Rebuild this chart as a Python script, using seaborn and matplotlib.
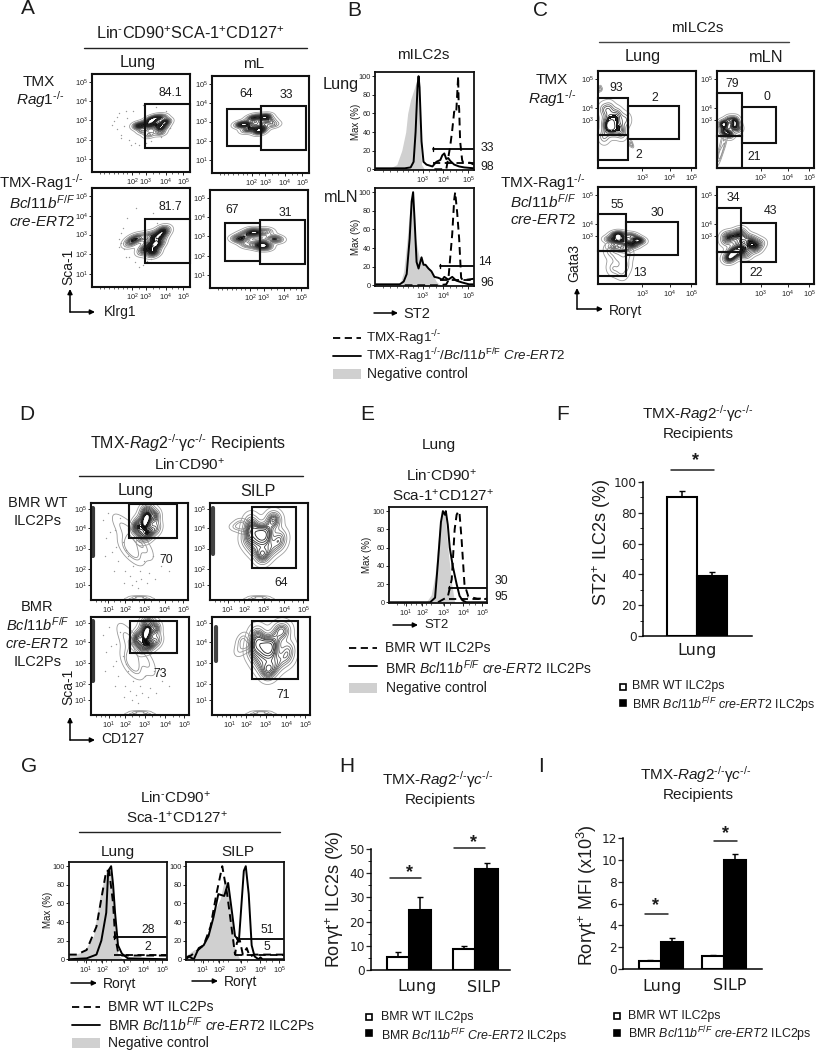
import numpy as np
import matplotlib
matplotlib.use("Agg")
import matplotlib.pyplot as plt
from matplotlib.colors import LinearSegmentedColormap
from matplotlib.patches import Rectangle
import seaborn as sns

sns.set_style("white")
plt.rcParams['font.family'] = ['Liberation Sans', 'DejaVu Sans']
plt.rcParams['mathtext.fontset'] = 'custom'
plt.rcParams['mathtext.rm'] = 'Liberation Sans'
plt.rcParams['mathtext.it'] = 'Liberation Sans:italic'
plt.rcParams['mathtext.bf'] = 'Liberation Sans:bold'

# bar values
f_groups = ['WT', 'cKO']
f_vals = [90.2, 38.7]
f_err = [3.8, 2.8]
h_sites = ['Lung', 'Lung', 'SILP', 'SILP']
h_donor = ['WT', 'cKO', 'WT', 'cKO']
h_vals = [5.5, 24.9, 8.5, 41.7]
h_err = [2.0, 5.3, 1.5, 2.4]
i_vals = [0.75, 2.45, 1.16, 10.0]
i_err = [0.1, 0.35, 0.12, 0.5]

# histograms, channel (0-100 across the plot) vs % of max
b1_neg_x = [13, 22, 27, 31, 33, 36, 40, 43, 45, 47, 50]
b1_neg_y = [0, 5, 20, 40, 60, 75, 88, 98, 60, 5, 0]
b1_sol_x = [0, 20, 30, 36, 39, 41, 43, 44, 45, 47, 49, 52, 55, 58, 62, 66, 68, 70, 72, 74, 76, 80, 85, 90, 100]
b1_sol_y = [1, 1, 1, 2, 8, 40, 90, 100, 88, 30, 8, 5, 4, 3, 8, 10, 15, 17, 11, 12, 9, 5, 3, 2, 1]
b1_das_x = [60, 72, 76, 78, 80, 82, 84, 84.5, 85, 86, 88, 89, 96, 100]
b1_das_y = [0, 0, 25, 42, 62, 60, 100, 70, 65, 30, 10, 7, 7, 5]
b2_neg_x = [25, 29, 32, 35, 38, 41, 45, 48, 52, 55, 59, 62, 66]
b2_neg_y = [0, 15, 45, 80, 97, 50, 28, 25, 20, 18, 10, 4, 0]
b2_sol_x = [0, 25, 29, 32, 35, 37, 38.5, 40, 42, 44, 47, 49, 51, 54, 57, 60, 64, 68, 70, 74, 78, 82, 88, 95, 100]
b2_sol_y = [1, 1, 4, 12, 50, 90, 100, 70, 25, 18, 30, 22, 22, 18, 15, 9, 8, 6, 9, 6, 9, 5, 3, 1, 1]
b2_das_x = [30, 65, 72, 74, 76, 78, 80, 81, 83, 85, 87, 89, 93, 100]
b2_das_y = [0, 0, 1, 5, 30, 55, 92, 100, 78, 50, 8, 5, 6, 7]
e_neg_x = [38, 43, 47, 51, 54, 57, 60, 64, 67]
e_neg_y = [0, 8, 30, 78, 95, 100, 60, 20, 0]
e_sol_x = [0, 30, 42, 47, 50, 53, 55, 57, 58, 60, 62, 65, 69, 72, 75, 79, 100]
e_sol_y = [0, 0, 0, 5, 45, 88, 100, 96, 100, 85, 60, 40, 20, 7, 2, 0, 0]
e_das_x = [50, 55, 60, 64, 67, 69, 71, 72, 74, 77, 81, 90, 100]
e_das_y = [0, 3, 6, 25, 80, 96, 100, 97, 70, 20, 6, 4, 4]
g1_neg_x = [0, 8, 15, 25, 32, 38, 40, 43, 47, 50, 55]
g1_neg_y = [5, 6, 8, 25, 70, 95, 90, 100, 30, 5, 0]
g1_sol_x = [0, 18, 28, 33, 38, 40, 43, 45, 47, 50, 54, 60, 100]
g1_sol_y = [0, 1, 5, 20, 50, 95, 100, 80, 50, 15, 6, 1, 0]
g1_das_x = [0, 8, 18, 28, 33, 38, 41, 45, 47, 50, 54, 100]
g1_das_y = [5, 5, 10, 35, 65, 95, 95, 60, 25, 8, 4, 4]
g2_neg_x = [0, 8, 15, 21, 28, 35, 38, 41, 44, 47, 50, 55]
g2_neg_y = [4, 10, 12, 25, 50, 65, 80, 85, 70, 40, 10, 0]
g2_sol_x = [0, 3, 8, 13, 18, 23, 28, 33, 39, 43, 47, 50, 54, 56, 59, 61, 64, 67, 70, 74, 76, 78, 100]
g2_sol_y = [0, 3, 0, 12, 15, 25, 45, 70, 68, 82, 50, 25, 20, 50, 95, 100, 70, 15, 3, 0, 2, 0, 0]
g2_das_x = [0, 5, 10, 18, 25, 31, 37, 42, 47, 50, 52, 55, 58, 62, 65, 70, 100]
g2_das_y = [2, 4, 8, 15, 35, 70, 100, 70, 30, 5, 18, 20, 5, 12, 3, 5, 5]

# hand placed cell positions behind the contours, channel units
a1_x = [52, 58, 65, 72, 60, 68, 70, 62, 74, 54, 66, 48, 58, 73, 46, 76]
a1_y = [42, 38, 48, 56, 54, 44, 40, 52, 50, 50, 56, 46, 47, 46, 48, 52]
a2_x = [32, 40, 50, 56, 35, 45, 52, 60, 28, 64, 48, 38, 54, 42, 50]
a2_y = [50, 56, 44, 58, 44, 58, 47, 54, 50, 50, 42, 50, 58, 46, 52]
a3_x = [55, 60, 66, 72, 62, 68, 74, 58, 42, 48, 38, 65, 70, 52, 63]
a3_y = [40, 46, 52, 58, 36, 44, 56, 52, 48, 50, 44, 42, 50, 36, 34]
a4_x = [32, 42, 52, 58, 38, 48, 56, 64, 28, 68, 45, 55, 35, 50]
a4_y = [50, 56, 46, 58, 44, 56, 42, 50, 50, 50, 58, 44, 54, 42]
c1_x = [6, 12, 18, 22, 10, 16, 8, 14, 20, 28, 24, 6, 12]
c1_y = [60, 52, 50, 42, 40, 38, 46, 44, 56, 50, 36, 32, 62]
c1b_x = [1, 3, 2, 33, 35, 34]
c1b_y = [80, 81, 83, 24, 23, 26]
c2_x = [8, 12, 16, 20, 10, 14, 18, 6, 22, 5]
c2_y = [44, 50, 42, 46, 36, 34, 50, 38, 40, 46]
c2b_x = [3, 5, 2, 8, 6]
c2b_y = [12, 18, 15, 26, 30]
c3_x = [12, 18, 24, 30, 36, 42, 16, 22, 28, 34, 40, 20]
c3_y = [46, 50, 47, 42, 40, 44, 38, 52, 36, 50, 46, 44]
c3b_x = [20, 28, 15, 24, 12, 30]
c3b_y = [28, 20, 16, 12, 34, 32]
c4_x = [10, 16, 22, 28, 34, 40, 44, 14, 20, 26, 36, 12, 10, 18, 24, 30]
c4_y = [44, 34, 42, 48, 40, 36, 42, 28, 32, 36, 46, 26, 50, 50, 54, 30]
d1_x = [57, 50, 64, 58, 54, 62, 48, 67, 52, 60, 57, 45, 68, 56]
d1_y = [82, 72, 88, 66, 92, 70, 80, 85, 65, 94, 75, 74, 74, 84]
d1b_x = [43, 38, 46, 30, 50, 56, 36, 40]
d1b_y = [50, 62, 48, 78, 60, 52, 54, 72]
d2_x = [54, 42, 66, 52, 38, 72, 62, 44, 50, 58, 70, 46, 64, 56, 40, 54]
d2_y = [68, 82, 82, 48, 62, 66, 52, 54, 65, 72, 58, 72, 84, 62, 72, 44]
d2b_x = [30, 26, 34, 32, 38]
d2b_y = [77, 75, 72, 80, 76]
d3_x = [57, 50, 64, 58, 54, 62, 48, 67, 52, 60, 57, 45, 68, 56]
d3_y = [84, 74, 90, 70, 94, 72, 82, 87, 68, 96, 78, 76, 76, 86]
d3b_x = [43, 40, 46, 34, 52, 58, 38, 42]
d3b_y = [52, 64, 50, 82, 60, 52, 54, 74]
d4_x = [59, 46, 74, 56, 42, 78, 66, 48, 54, 62, 76, 50, 68, 60, 44, 58]
d4_y = [70, 84, 86, 46, 64, 68, 52, 54, 66, 74, 58, 74, 86, 62, 74, 44]
d4b_x = [30, 28, 34, 32, 38]
d4b_y = [74, 66, 70, 78, 72]
floor_x = [42, 50, 58, 46, 54]
floor_y = [1, 1, 1, 3, 3]

# loose dots around the main populations
dots1_x = [22, 25, 28, 30, 33, 36, 38, 42, 20, 35, 44, 48, 52, 60, 70, 75, 80, 40, 30, 26, 55, 65]
dots1_y = [52, 44, 60, 38, 47, 55, 33, 62, 48, 62, 30, 28, 68, 32, 36, 62, 45, 28, 35, 56, 30, 66]
dots2_x = [12, 15, 18, 22, 25, 28, 30, 33, 35, 38, 40, 43, 46, 50, 55, 60, 66, 72, 80, 20, 26, 34, 42, 48, 58, 64, 14, 24, 36, 52]
dots2_y = [82, 64, 90, 50, 72, 40, 85, 60, 30, 45, 25, 35, 20, 30, 40, 28, 22, 35, 30, 70, 55, 18, 15, 12, 18, 45, 45, 30, 52, 22]

# ticks of the flow plots, positions in channel units
a_xt = [41, 55, 75, 93]
a_xl = ['$10^{2}$', '$10^{3}$', '$10^{4}$', '$10^{5}$']
a_yt = [92, 72, 53, 33, 13]
a_yl = ['$10^{5}$', '$10^{4}$', '$10^{3}$', '$10^{2}$', '$10^{1}$']
c_xt = [45, 73, 95]
c_xl = ['$10^{3}$', '$10^{4}$', '$10^{5}$']
c_yt = [92, 62, 49]
c_yl = ['$10^{5}$', '$10^{4}$', '$10^{3}$']
d_xt = [18, 35, 55, 76, 95]
d_xl = ['$10^{1}$', '$10^{2}$', '$10^{3}$', '$10^{4}$', '$10^{5}$']
d_yt = [94, 74, 53, 32, 15]
d_yl = ['$10^{5}$', '$10^{4}$', '$10^{3}$', '$10^{2}$', '$10^{1}$']
b_xt = [48, 69, 94]
b_xl = ['$10^{3}$', '$10^{4}$', '$10^{5}$']
pct_t = [0, 20, 40, 60, 80, 100]

W, H = 816, 1050
fig = plt.figure(figsize=(W / 100, H / 100), dpi=100, facecolor='white')
grey_map = LinearSegmentedColormap.from_list('cont', ['#a0a0a0', '#707070', '#303030', '#101010'])
core_map = LinearSegmentedColormap.from_list('core', ['#0a0a0a', '#0a0a0a'])
pale_map = LinearSegmentedColormap.from_list('pale', ['#9a9a9a', '#8a8a8a'])


def px_axes(l, t, r, b):
    return fig.add_axes([l / W, 1 - b / H, (r - l) / W, (b - t) / H])


def flow_ticks(ax, xt, xl, yt=None, yl=None):
    ax.set_xticks(xt)
    ax.set_xticklabels(xl, fontsize=5.3)
    ax.tick_params(axis='x', length=2, width=0.6, pad=1.5, color='k', labelcolor='#222222')
    ax.tick_params(axis='y', length=2, width=0.6, pad=1, color='k', labelcolor='#222222')
    ax.tick_params(which='minor', length=1.2, width=0.5, bottom=True, left=True)
    ax.xaxis.set_ticks_position('bottom')
    ax.yaxis.set_ticks_position('left')
    if yt is not None:
        ax.set_yticks(yt)
        ax.set_yticklabels(yl, fontsize=5.3)
    for s in ax.spines.values():
        s.set_linewidth(1.5)
        s.set_color('#111111')


def contour_plot(rect, xs, ys, xt, xl, yt, yl, bw=1.0, levels=13, dots=None, minors=None,
                 core=None, extras=()):
    ax = px_axes(*rect)
    if dots is not None:
        sns.scatterplot(x=dots[0], y=dots[1], ax=ax, s=1, color='#999999', linewidth=0, legend=False)
    for ex, ey, eb in extras:
        sns.kdeplot(x=ex, y=ey, ax=ax, levels=4, thresh=0.1, bw_adjust=eb, cmap=pale_map, linewidths=0.6)
    sns.kdeplot(x=xs, y=ys, ax=ax, levels=levels, thresh=0.04, bw_adjust=bw, cmap=grey_map, linewidths=0.6)
    if core is not None:
        sns.kdeplot(x=xs, y=ys, ax=ax, fill=True, levels=list(core), bw_adjust=bw, cmap=core_map)
    ax.set_xlim(0, 100)
    ax.set_ylim(0, 100)
    ax.set_xlabel('')
    ax.set_ylabel('')
    flow_ticks(ax, xt, xl, yt, yl)
    if minors is not None:
        ax.set_xticks(minors, minor=True)
    return ax


def box(ax, x0, x1, y0, y1):
    ax.add_patch(Rectangle((x0, y0), x1 - x0, y1 - y0, fill=False, ec='#111111', lw=1.5, zorder=5, clip_on=False))


def histo(rect, neg, sol, das, xt, xl, upper, lower, x_up, x_lo):
    ax = px_axes(*rect)
    ax.fill_between(neg[0], neg[1], color='#d0d0d0', lw=0)
    sns.lineplot(x=das[0], y=das[1], ax=ax, color='k', lw=1.4, linestyle=(0, (4, 2.5)), estimator=None, sort=False)
    sns.lineplot(x=sol[0], y=sol[1], ax=ax, color='k', lw=1.4, estimator=None, sort=False)
    ax.set_xlim(0, 100)
    ax.set_ylim(-0.8, 104.5)
    ax.set_xlabel('')
    ax.set_ylabel('')
    flow_ticks(ax, xt, xl, pct_t, [str(v) for v in pct_t])
    ax.plot([x_up, 100], [upper, upper], color='k', lw=1.3)
    ax.plot([x_lo, 100], [lower, lower], color='k', lw=1.3, linestyle=(0, (4, 2.5)))
    ax.plot([x_up, x_up], [upper - 2, upper + 2], color='k', lw=1)
    for s in ax.spines.values():
        s.set_linewidth(1.3)
    ax.set_xticks([8, 15, 22, 28, 33, 38, 43, 55, 62, 76, 82, 88], minor=True)
    return ax


def bar_axes(ax, major, minor):
    sns.despine(ax=ax)
    ax.spines['left'].set_linewidth(1.1)
    ax.spines['bottom'].set_linewidth(1.1)
    ax.spines['left'].set_color('k')
    ax.spines['bottom'].set_color('k')
    ax.set_yticks(major)
    ax.set_yticklabels([str(v) for v in major], family='DejaVu Sans', fontsize=8.7, color='#222222')
    ax.set_yticks(minor, minor=True)
    ax.tick_params(axis='y', which='major', left=True, length=3.5, width=0.9, pad=1)
    ax.tick_params(axis='y', which='minor', left=True, length=2, width=0.7)
    ax.set_xticks([])
    ax.set_xlabel('')
    ax.set_ylabel('')


def err_bars(ax, vals, errs):
    centers = [p.get_x() + p.get_width() / 2 for c in ax.containers for p in c]
    tops = [p.get_height() for c in ax.containers for p in c]
    for xc, top in zip(centers, tops):
        i = vals.index(top)
        ax.errorbar([xc], [top], yerr=[[0], [errs[i]]], color='k', lw=1.1, capsize=2, capthick=1, zorder=1)


# panel A
a_minor = [8, 12, 17, 22, 27, 32, 36, 48, 62, 68, 82, 88]
ring = (0.62, 0.86)
ax = contour_plot((92, 74, 190, 172), a1_x, a1_y, a_xt, a_xl, a_yt, a_yl, bw=0.72, dots=(dots1_x, dots1_y), minors=a_minor, core=ring)
box(ax, 54, 100, 24, 69)
ax = contour_plot((212, 76, 309, 173), a2_x, a2_y, a_xt, a_xl, a_yt, a_yl, bw=0.72, minors=a_minor, core=(0.72, 0.92))
box(ax, 15, 50, 28, 66)
box(ax, 50, 97, 24, 69)
ax = contour_plot((92, 188, 190, 287), a3_x, a3_y, a_xt, a_xl, a_yt, a_yl, bw=0.72, dots=(dots1_y, dots1_x), minors=a_minor, core=ring)
box(ax, 54, 100, 24, 69)
ax = contour_plot((210, 190, 308, 288), a4_x, a4_y, a_xt, a_xl, a_yt, a_yl, bw=0.72, minors=a_minor, core=(0.72, 0.92))
box(ax, 15, 51, 28, 66)
box(ax, 51, 97, 24, 69)

# panel B
histo((375, 72, 474, 170), (b1_neg_x, b1_neg_y), (b1_sol_x, b1_sol_y), (b1_das_x, b1_das_y), b_xt, b_xl, 22, 6.5, 59, 59)
histo((375, 188, 474, 286), (b2_neg_x, b2_neg_y), (b2_sol_x, b2_sol_y), (b2_das_x, b2_das_y), b_xt, b_xl, 21, 6, 66, 66)

# panel C
ax = contour_plot((598, 71, 696, 168), c1_x, c1_y, c_xt, c_xl, c_yt, c_yl, bw=0.8, levels=9, core=(0.72, 0.8),
                  extras=[(c1b_x[:3], c1b_y[:3], 1.0), (c1b_x[3:], c1b_y[3:], 1.0)])
box(ax, 0, 30.5, 34.5, 71.7); box(ax, 0, 30.5, 8.5, 34.5); box(ax, 30.5, 83, 30, 63.8)
ax = contour_plot((717, 71, 814, 168), c2_x, c2_y, c_xt, c_xl, c_yt, c_yl, bw=0.8, levels=11, core=(0.8, 0.88),
                  extras=[(c2b_x, c2b_y, 1.0)])
box(ax, 0, 25.6, 33.1, 77.8); box(ax, 0, 25.6, 0, 33.1); box(ax, 25.6, 61, 25.6, 62.5)
ax = contour_plot((598, 187, 696, 284), c3_x, c3_y, c_xt, c_xl, c_yt, c_yl, bw=0.75, core=(0.72, 0.86),
                  extras=[(c3b_x, c3b_y, 0.8)])
box(ax, 0, 29, 34, 71.7); box(ax, 0, 29, 8, 34); box(ax, 29, 82, 30, 64)
ax = contour_plot((717, 187, 814, 284), c4_x, c4_y, c_xt, c_xl, c_yt, c_yl, bw=0.7, core=(0.74, 0.86))
box(ax, 0, 24.5, 33.5, 78.5); box(ax, 0, 24.5, 0, 33.5); box(ax, 24.5, 61, 22.5, 63)

# panel D
d_minor = [5, 10, 14, 24, 30, 42, 49, 62, 70, 84, 90]
edge_top = [95, 45]
edge_low = [96, 35]
floor_b = (floor_x, floor_y, 1.0)
ax = contour_plot((91, 503, 188, 600), d1_x, d1_y, d_xt, d_xl, d_yt, d_yl, bw=0.85, dots=(dots2_x, dots2_y), minors=d_minor,
                  core=(0.82, 0.9), extras=[(d1b_x, d1b_y, 1.0), floor_b])
ax.plot([2.5, 2.5], edge_top, color='#222222', lw=3, alpha=0.9)
box(ax, 39.6, 88.7, 64, 98.6)
ax = contour_plot((210, 503, 308, 600), d2_x, d2_y, d_xt, d_xl, d_yt, d_yl, minors=d_minor, bw=0.82,
                  extras=[(d2b_x, d2b_y, 1.2), floor_b])
ax.plot([3, 3], [95, 47], color='#222222', lw=3, alpha=0.85)
box(ax, 43, 88, 33.5, 96)
ax = contour_plot((91, 617, 189, 715), d3_x, d3_y, d_xt, d_xl, d_yt, d_yl, bw=0.85, dots=(dots2_x, dots2_y), minors=d_minor,
                  core=(0.82, 0.9), extras=[(d3b_x, d3b_y, 1.0), floor_b])
ax.plot([2.5, 2.5], edge_low, color='#222222', lw=3, alpha=0.9)
box(ax, 39.3, 88, 63.5, 96)
ax = contour_plot((212, 617, 310, 715), d4_x, d4_y, d_xt, d_xl, d_yt, d_yl, minors=d_minor, bw=0.82,
                  extras=[(d4b_x, d4b_y, 1.2), floor_b])
ax.plot([4, 4], [90, 55], color='#222222', lw=3, alpha=0.85)
box(ax, 40.7, 88, 37, 96)

# panel E
e_xt = [17, 34, 56, 76, 95]
e_xl = ['$10^{1}$', '$10^{2}$', '$10^{3}$', '$10^{4}$', '$10^{5}$']
histo((389, 507, 487, 603), (e_neg_x, e_neg_y), (e_sol_x, e_sol_y), (e_das_x, e_das_y), e_xt, e_xl, 16, 4, 61, 61)

# panel G
histo((69, 862, 167, 960), (g1_neg_x, g1_neg_y), (g1_sol_x, g1_sol_y), (g1_das_x, g1_das_y), e_xt, e_xl, 24, 4.5, 46, 46)
histo((186, 862, 284, 960), (g2_neg_x, g2_neg_y), (g2_sol_x, g2_sol_y), (g2_das_x, g2_das_y), e_xt, e_xl, 22, 5, 52, 50)

# panel F
ax = px_axes(643, 482, 752, 636)
sns.barplot(x=f_groups, y=f_vals, hue=f_groups, palette=['white', 'black'], width=1, legend=False,
            edgecolor='k', linewidth=1.5, ax=ax, zorder=2)
err_bars(ax, f_vals, f_err)
ax.set_xlim(-1.3, 2.33)
ax.set_ylim(0, 100)
bar_axes(ax, [0, 20, 40, 60, 80, 100], [10, 30, 50, 70, 90])

# panel H
ax = px_axes(371, 849, 510, 970)
sns.barplot(x=h_sites, y=h_vals, hue=h_donor, palette=['white', 'black'], width=0.667, gap=0, legend=False,
            edgecolor='k', linewidth=1.5, ax=ax, zorder=2)
err_bars(ax, h_vals, h_err)
ax.set_xlim(-0.571, 1.519)
ax.set_ylim(0, 50)
bar_axes(ax, [0, 10, 20, 30, 40, 50], [5, 15, 25, 35, 45])

# panel I
ax = px_axes(623, 838, 762, 969)
sns.barplot(x=h_sites, y=i_vals, hue=h_donor, palette=['white', 'black'], width=0.7, gap=0, legend=False,
            edgecolor='k', linewidth=1.5, ax=ax, zorder=2)
err_bars(ax, i_vals, i_err)
ax.set_xlim(-0.603, 1.6)
ax.set_ylim(0, 12)
bar_axes(ax, [0, 2, 4, 6, 8, 10, 12], [])

# everything else is drawn on one overlay in picture pixels
ov = fig.add_axes([0, 0, 1, 1], zorder=20)
ov.set_xlim(0, W)
ov.set_ylim(H, 0)
ov.axis('off')
ov.patch.set_alpha(0)
INK = '#1c1c1c'


def t(x, y, s, size=11, ha='center', rot=0, **kw):
    ov.text(x, y, s, fontsize=size, ha=ha, va='center', rotation=rot, color=INK, **kw)


def rule(x0, x1, y, lw=1.0, color='#222222', ls='-'):
    ov.plot([x0, x1], [y, y], color=color, lw=lw, linestyle=ls)


def arrow(x0, y0, x1, y1):
    ov.annotate('', xy=(x1, y1), xytext=(x0, y0),
                arrowprops=dict(arrowstyle='-|>', lw=1.1, color='k', shrinkA=0, shrinkB=0, mutation_scale=7))


def hist_legend(x0, x1, xt_, y1, y2, y3, size=10):
    rule(x0, x1, y1, lw=1.3, color='k', ls=(0, (4, 2.5)))
    rule(x0, x1, y2, lw=1.3, color='k')
    ov.add_patch(Rectangle((x0, y3 - 5), x1 - x0, 10, color='#d0d0d0', lw=0))
    t(xt_, y3, 'Negative control', size, ha='left')


def bar_legend(x, y1, y2, xt_, ty1, ty2, label2):
    ov.add_patch(Rectangle((x - 3, y1 - 3), 6, 6, fc='white', ec='k', lw=1.2))
    ov.add_patch(Rectangle((x - 3, y2 - 3), 6, 6, fc='k', ec='k', lw=1.2))
    t(xt_, ty1, 'BMR WT ILC2ps', 8.9, ha='left')
    t(xt_, ty2, label2, 8.9, ha='left')


KO = r'$^{\text{-/-}}$'
BCL = r'$\mathit{Bcl11b}^{\mathit{F/F}}$'
RAG2 = r'TMX-$\mathit{Rag2}$' + KO + r'γ$\mathit{c}$' + KO
RAG1 = r'$\mathit{Rag1}$' + KO
CD = r'Lin$^{\text{-}}$CD90$^{+}$'
SCA = r'Sca-1$^{+}$CD127$^{+}$'
RT = 'Rorγt'

# letters
for lx, ly, s in [(28, 9, 'A'), (354, 11, 'B'), (540, 11, 'C'), (27, 415, 'D'), (367, 415, 'E'),
                  (563, 415, 'F'), (29, 767, 'G'), (347, 767, 'H'), (541, 767, 'I')]:
    t(lx, ly, s, 15)

# A text
t(190, 34, r'Lin$^{\text{-}}$CD90$^{+}$SCA-1$^{+}$CD127$^{+}$', 11.7)
rule(84, 307, 48)
t(138, 62, 'Lung', 11.7)
t(254, 64, 'mL', 11)
t(39, 82, 'TMX', 11)
t(40, 100, RAG1, 11)
t(41, 183, 'TMX-Rag1' + KO, 10.8)
t(42, 203, BCL, 11)
t(42, 222, r'$\mathit{cre}$-$\mathit{ERT2}$', 11)
for nx, ny, s in [(170, 93, '84.1'), (246, 94, '64'), (286, 95, '33'), (170, 207, '81.7'), (232, 210, '67'), (285, 213, '31')]:
    t(nx, ny, s, 8.8)
arrow(70, 312, 70, 289)
arrow(70, 312, 95, 312)
t(104, 312, 'Klrg1', 10, ha='left')
t(68, 267, 'Sca-1', 10, rot=90)

# B text
t(423, 55, 'mILC2s', 11)
t(341, 85, 'Lung', 11.7)
t(341, 198, 'mLN', 11.7)
t(356, 122, 'Max (%)', 7, rot=90)
t(356, 237, 'Max (%)', 7, rot=90)
for nx, ny, s in [(487, 148, '33'), (487, 167, '98'), (485, 262, '14'), (487, 283, '96')]:
    t(nx, ny, s, 8.8)
arrow(374, 313, 398, 313)
t(403, 314, 'ST2', 10.5, ha='left')
hist_legend(333, 361, 367, 338, 356, 374)
t(366, 338, 'TMX-Rag1' + KO, 9.6, ha='left')
t(366, 356, 'TMX-Rag1' + KO + r'/$\mathit{Bcl11b}^{\mathrm{F/F}}$ $\mathit{Cre}$-$\mathit{ERT2}$', 9.6, ha='left')

# C text
t(697, 28, 'mILC2s', 11)
rule(599, 789, 42, color='#444444')
t(643, 56, 'Lung', 11.7)
t(766, 57, 'mLN', 11.7)
t(552, 80, 'TMX', 11)
t(552, 99, RAG1, 11)
t(543, 183, 'TMX-Rag1' + KO, 11)
t(543, 202, BCL, 11)
t(543, 220, r'$\mathit{cre}$-$\mathit{ERT2}$', 11)
for nx, ny, s in [(616, 88, '93'), (655, 98, '2'), (639, 155, '2'), (732, 84, '79'), (767, 97, '0'), (754, 157, '21'),
                  (617, 205, '55'), (657, 213, '30'), (640, 273, '13'), (733, 198, '34'), (770, 211, '43'), (756, 273, '22')]:
    t(nx, ny, s, 8.8)
arrow(577, 309, 577, 288)
arrow(577, 309, 603, 309)
t(609, 311, RT, 10, ha='left')
t(574, 263, 'Gata3', 10, rot=90)

# D text
t(188, 443, RAG2 + ' Recipients', 11.5)
t(190, 465, CD, 11)
rule(79, 303, 476)
t(136, 490, 'Lung', 11.7)
t(258, 492, 'SILP', 11.7)
t(38, 503, 'BMR WT', 10.5)
t(38, 521, 'ILC2Ps', 10.5)
t(37, 607, 'BMR', 10.5)
t(38, 625, BCL, 10.5)
t(37, 644, r'$\mathit{cre}$-$\mathit{ERT2}$', 10.5)
t(38, 662, 'ILC2Ps', 10.5)
for nx, ny, s in [(166, 560, '70'), (281, 583, '64'), (160, 674, '73'), (283, 695, '71')]:
    t(nx, ny, s, 8.8)
arrow(70, 740, 70, 717)
arrow(70, 740, 95, 740)
t(101, 739, 'CD127', 10, ha='left')
t(68, 687, 'Sca-1', 10, rot=90)

# E text
t(439, 445, 'Lung', 11)
t(442, 476, CD, 11)
t(443, 496, SCA, 11)
t(367, 555, 'Max (%)', 7, rot=90)
t(501, 581, '30', 8.8)
t(501, 597, '95', 8.8)
arrow(393, 625, 418, 625)
t(424, 625, 'ST2', 9.5, ha='left')
hist_legend(349, 377, 386, 648, 666, 688)
t(385, 648, 'BMR WT ILC2Ps', 10, ha='left')
t(385, 668, 'BMR ' + BCL + r' $\mathit{cre}$-$\mathit{ERT2}$ ILC2Ps', 10, ha='left')

# F text
t(698, 414, RAG2, 11)
t(698, 434, 'Recipients', 11)
t(696, 461, '*', 13, weight='bold')
rule(671, 714, 470, lw=1.1)
t(697, 650, 'Lung', 11.5, family='DejaVu Sans')
t(602, 543, r'ST2$^{+}$ ILC2s (%)', 13, rot=90)
bar_legend(623, 687, 703, 632, 686, 705, 'BMR ' + BCL + r' $\mathit{cre}$-$\mathit{ERT2}$ ILC2ps')

# G text
t(176, 798, CD, 11)
t(177, 818, SCA, 11)
rule(79, 280, 832)
t(118, 852, 'Lung', 11)
t(238, 852, 'SILP', 11)
t(48, 910, 'Max (%)', 7, rot=90)
for nx, ny, s in [(148, 930, '28'), (148, 947, '2'), (267, 930, '51'), (267, 947, '5')]:
    t(nx, ny, s, 8.8)
arrow(71, 983, 97, 983)
t(103, 984, RT, 10, ha='left')
arrow(192, 981, 218, 981)
t(224, 982, RT, 10, ha='left')
hist_legend(72, 100, 108, 1007, 1025, 1043)
t(108, 1007, 'BMR WT ILC2Ps', 10, ha='left')
t(108, 1025, 'BMR ' + BCL + r' $\mathit{cre}$-$\mathit{ERT2}$ ILC2Ps', 10, ha='left')

# H text
t(438, 780, RAG2, 11)
t(440, 800, 'Recipients', 11)
t(335, 900, r'Rorγt$^{+}$ ILC2s (%)', 13, rot=90)
t(410, 873, '*', 13, weight='bold')
rule(390, 421, 878, lw=1.1)
t(474, 843, '*', 13, weight='bold')
rule(454, 485, 848, lw=1.1)
t(417, 987, 'Lung', 11.5, family='DejaVu Sans')
t(484, 987, 'SILP', 11.5, family='DejaVu Sans')
bar_legend(369, 1017, 1033, 381, 1017, 1036, 'BMR ' + BCL + r' $\mathit{Cre}$-$\mathit{ERT2}$ ILC2ps')

# I text
t(696, 775, RAG2, 11)
t(698, 795, 'Recipients', 11)
t(587, 895, r'Rorγt$^{+}$ MFI (x10$^{3}$)', 13, rot=90)
t(655, 906, '*', 13, weight='bold')
rule(645, 668, 914, lw=1.1)
t(725, 834, '*', 13, weight='bold')
rule(714, 737, 841, lw=1.1)
t(662, 986, 'Lung', 11.5, family='DejaVu Sans')
t(730, 986, 'SILP', 11.5, family='DejaVu Sans')
bar_legend(617, 1016, 1033, 628, 1016, 1034, 'BMR ' + BCL + r' $\mathit{cre}$-$\mathit{ERT2}$ ILC2ps')

fig.savefig('out.png', dpi=100)
